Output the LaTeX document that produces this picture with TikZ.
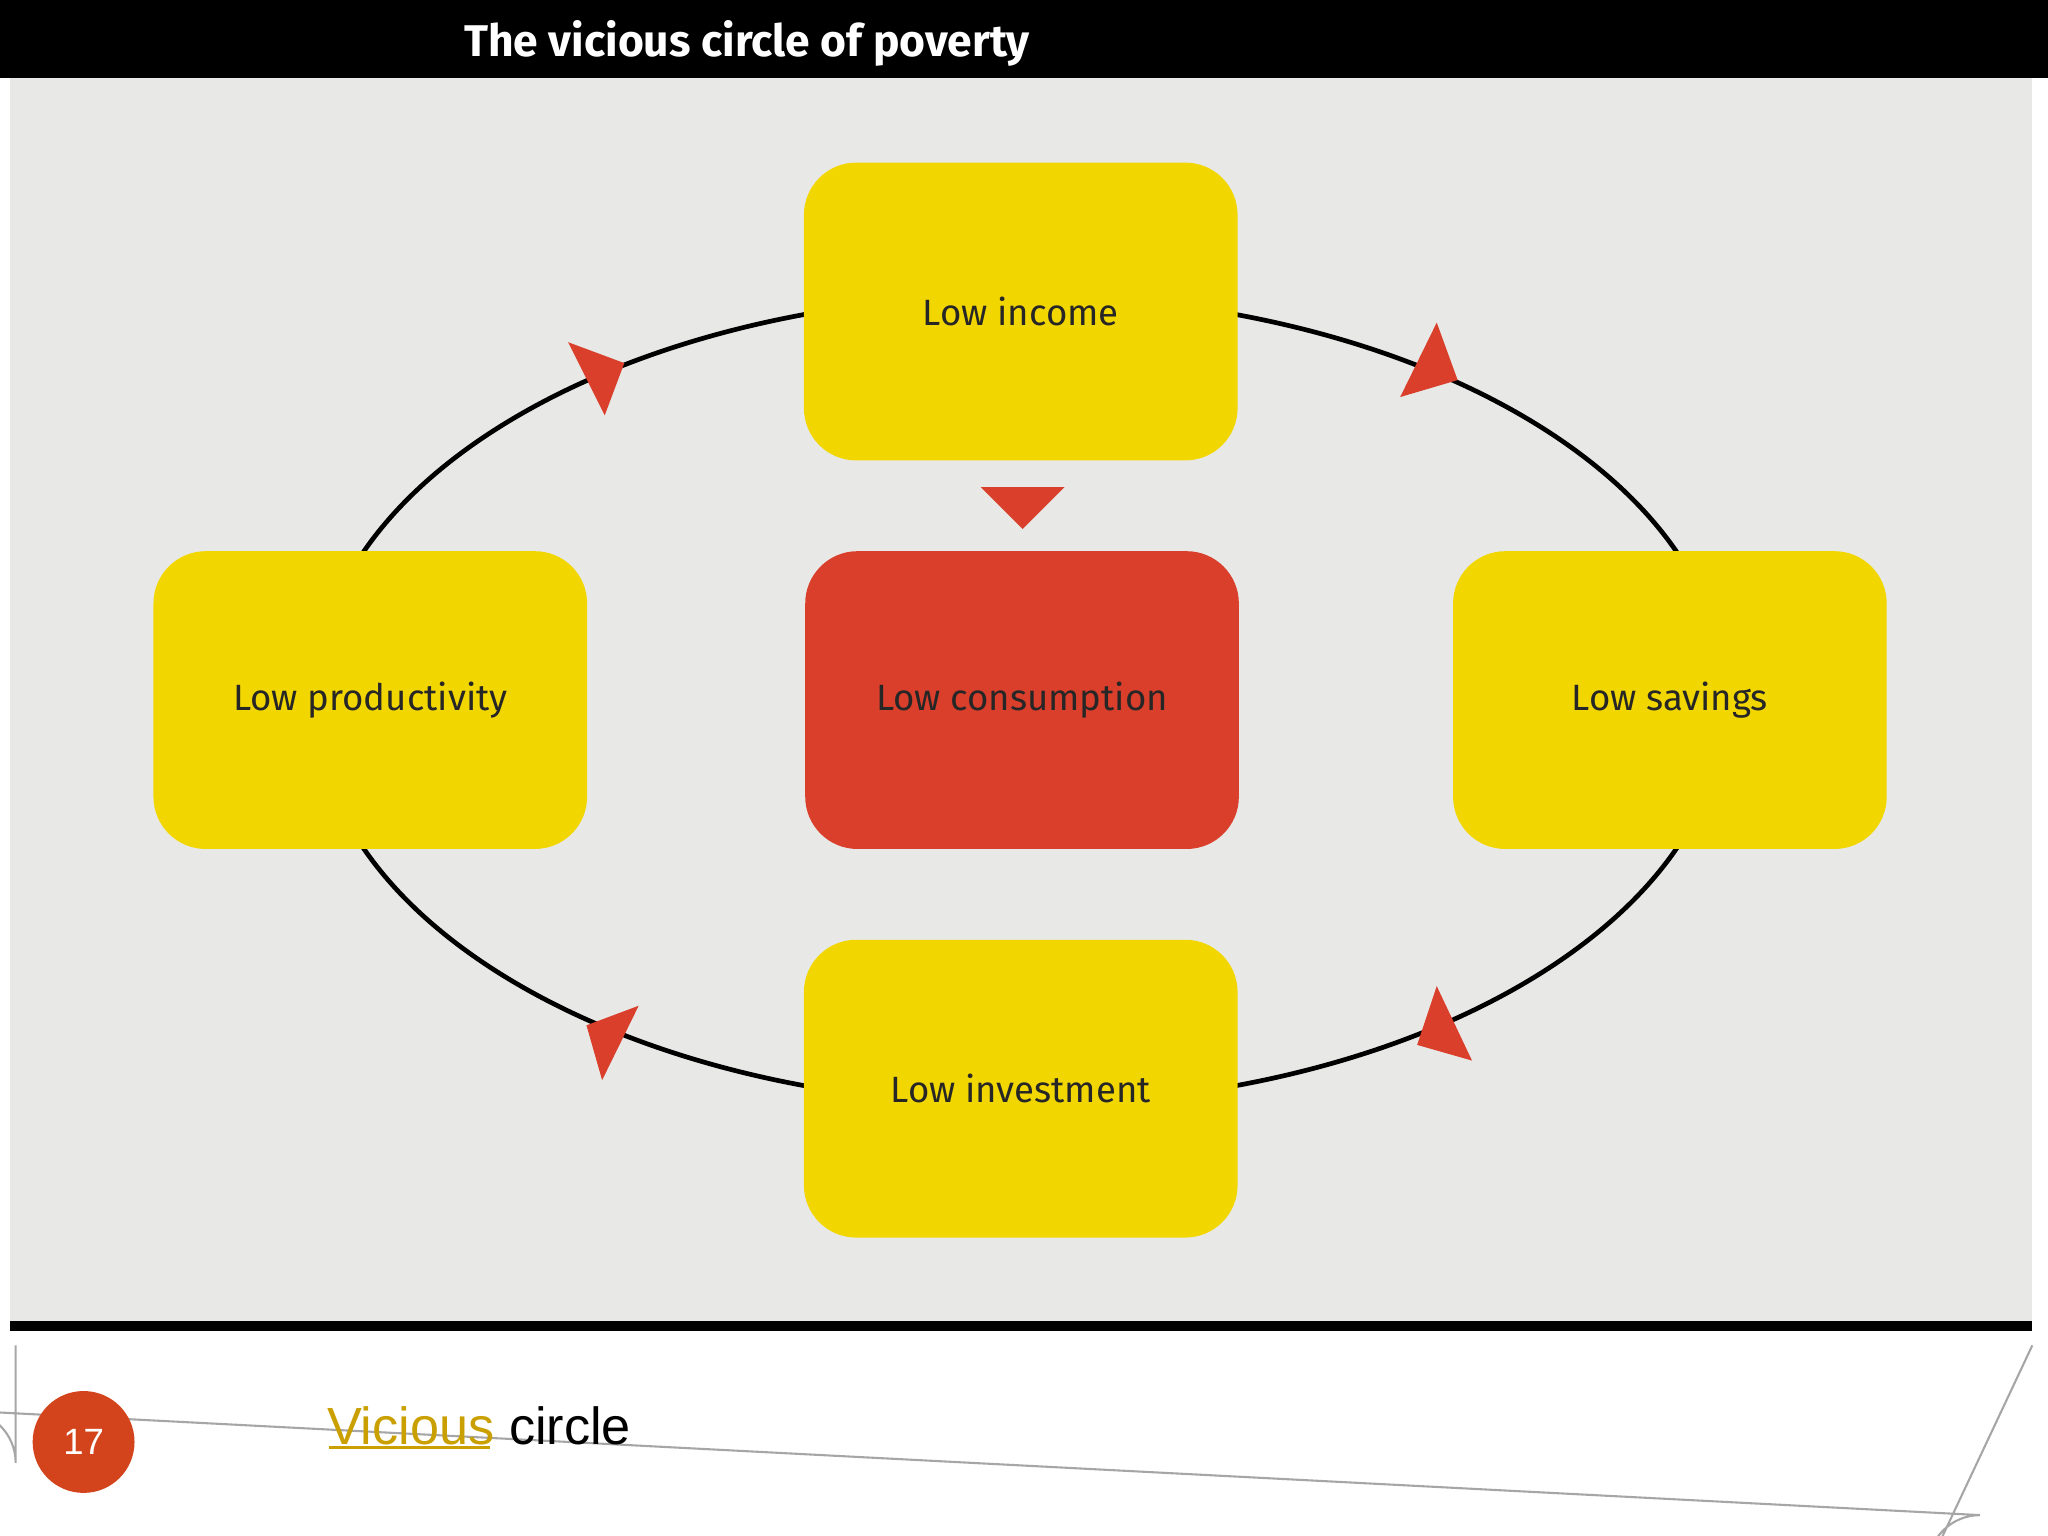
\documentclass[tikz,border=0pt]{standalone}
\usepackage{fontspec}
\setmainfont{Fira Sans}
\newfontfamily\arialf{Liberation Sans}
\begin{document}
\begin{tikzpicture}[x=0.5pt,y=-0.5pt,
  box/.style={draw=none,rounded corners=20pt,minimum width=166pt,minimum height=114pt,font=\fontsize{14}{16}\selectfont,text=black!85},
  ybox/.style={box,fill=yboxc},
  tri/.style={fill=redc,draw=none}]
\definecolor{yboxc}{HTML}{F2D600}
\definecolor{redc}{HTML}{DA3F2C}
\definecolor{bgc}{HTML}{E8E9E7}
\definecolor{goldc}{HTML}{C9A000}
\definecolor{orc}{HTML}{D4441C}
\useasboundingbox (0,0) rectangle (1568,1176);
\fill[white] (0,0) rectangle (1568,1176);
\fill[bgc] (8,60) rectangle (1556,1012);
\fill[black] (0,0) rectangle (1568,60);
\node[text=white,font=\bfseries\fontsize{17}{19}\selectfont] (title) at (572,33) {The vicious circle of poverty};
\draw[line width=4pt] (8,1015) -- (1556,1015);
\draw[gray!70,line width=0.8pt] (12,1030) -- (12,1120) arc[start angle=180,end angle=90,radius=-40] -- (1516,1160) arc[start angle=90,end angle=0,radius=-40] -- (1556,1030);
% ellipse
\draw[line width=1.8pt] (781,536) ellipse[x radius=540,y radius=310];
\node[ybox] (inc) at (781.5,238.5) {Low income};
\node[box,fill=redc] (con) at (782.5,536) {Low consumption};
\node[ybox] (prod) at (283.5,536) {Low productivity};
\node[ybox] (sav) at (1278.5,536) {Low savings};
\node[ybox] (inv) at (781.5,833.5) {Low investment};
% arrowheads
\fill[tri] (435,262) -- (478,278) -- (463,318) -- cycle;
\fill[tri] (1100,247) -- (1116,291) -- (1072,304) -- cycle;
\fill[tri] (1100,755) -- (1127,812) -- (1085,800) -- cycle;
\fill[tri] (449,785) -- (489,770) -- (461,827) -- cycle;
\fill[tri] (751,373) -- (815,373) -- (783,405) -- cycle;
% footer
\fill[orc] (64,1104) circle[radius=39];
\node[text=white,font=\arialf\fontsize{14}{16}\selectfont] (num) at (64,1104) {17};
\node[anchor=west,font=\arialf\fontsize{20}{24}\selectfont,inner sep=0] (foot) at (250,1092) {\textcolor{goldc}{Vicious} circle};
\draw[goldc,line width=1pt] (252,1108) -- (375,1108);
\end{tikzpicture}
\end{document}
